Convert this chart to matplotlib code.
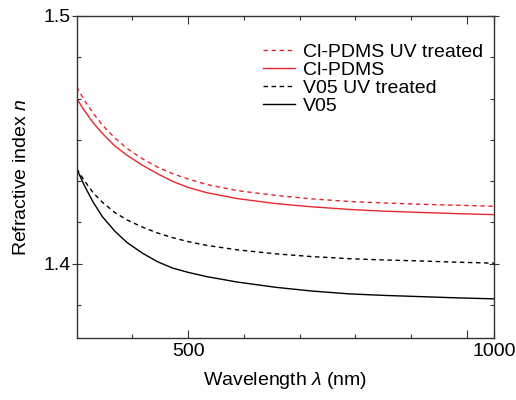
import matplotlib
matplotlib.use("Agg")
import matplotlib.pyplot as plt

plt.rcParams['font.family'] = ['Liberation Sans', 'DejaVu Sans']
plt.rcParams['mathtext.fontset'] = 'custom'
plt.rcParams['mathtext.rm'] = 'Liberation Sans'
plt.rcParams['mathtext.it'] = 'Liberation Sans:italic'

# wavelength (nm) and refractive index of each film
WAVELENGTH = [318, 330, 345, 360, 380, 400, 425, 450, 475, 500,
              530, 580, 642, 700, 764, 820, 880, 940, 1000]

CLPDMS_UV = [1.4714, 1.4662, 1.4607, 1.4560, 1.4508, 1.4466, 1.4424, 1.4390, 1.4363, 1.4342,
             1.4320, 1.4295, 1.4276, 1.4262, 1.4251, 1.4245, 1.4240, 1.4236, 1.4232]
CLPDMS = [1.4667, 1.4620, 1.4569, 1.4526, 1.4476, 1.4438, 1.4398, 1.4363, 1.4332, 1.4308,
          1.4287, 1.4263, 1.4243, 1.4230, 1.4219, 1.4212, 1.4207, 1.4202, 1.4198]
V05_UV = [1.4384, 1.4337, 1.4286, 1.4248, 1.4207, 1.4177, 1.4148, 1.4124, 1.4105, 1.4089,
          1.4074, 1.4056, 1.4040, 1.4029, 1.4020, 1.4015, 1.4011, 1.4006, 1.4002]
V05 = [1.4384, 1.4318, 1.4248, 1.4190, 1.4132, 1.4086, 1.4043, 1.4008, 1.3982, 1.3965,
       1.3948, 1.3926, 1.3905, 1.3890, 1.3878, 1.3872, 1.3867, 1.3862, 1.3858]

LABELS = ['Cl-PDMS UV treated', 'Cl-PDMS', 'V05 UV treated', 'V05']

RED = '#e8262b'

fig = plt.figure(figsize=(5.16, 4.0), dpi=100)
ax = fig.add_axes([0.1486, 0.155, 0.8094, 0.805])

dash = (0, (3.2, 2.6))
ax.plot(WAVELENGTH, CLPDMS_UV, color=RED, lw=1.0, linestyle=dash, label=LABELS[0])
ax.plot(WAVELENGTH, CLPDMS, color=RED, lw=1.0, label=LABELS[1])
ax.plot(WAVELENGTH, V05_UV, color='black', lw=1.0, linestyle=dash, label=LABELS[2])
ax.plot(WAVELENGTH, V05, color='black', lw=1.0, label=LABELS[3])

ax.set_xlim(318, 1000)
ax.set_ylim(1.37, 1.5)

ax.set_xticks([500, 955, 1000], ['500', '', '1000'])
ax.set_xticks([409, 591, 682, 773, 864], minor=True)
ax.set_yticks([1.4, 1.5], ['1.4', '1.5'])
ax.set_yticks([1.4 - 0.1 / 6] + [1.4 + k * 0.1 / 6 for k in range(1, 6)], minor=True)

ax.tick_params(axis='x', which='major', direction='in', length=5.5, width=0.8,
               top=True, labelsize=14, pad=3.5, color='#333333')
ax.tick_params(axis='x', which='minor', direction='in', length=3, width=0.8,
               top=True, color='#333333')
ax.tick_params(axis='y', which='major', direction='inout', length=7.2, width=0.8,
               right=True, labelsize=14, pad=0.5, color='#333333')
ax.tick_params(axis='y', which='minor', direction='in', length=3, width=0.8,
               right=True, color='#333333')

for sp in ax.spines.values():
    sp.set_linewidth(1.0)
    sp.set_color('#333333')

ax.set_xlabel(r'Wavelength $\lambda$ (nm)', fontsize=14)
ax.set_ylabel(r'Refractive index $n$', fontsize=14)
ax.xaxis.set_label_coords(0.5, -0.1)
ax.yaxis.set_label_coords(-0.112, 0.5)

ax.legend(loc='upper left', bbox_to_anchor=(0.446, 0.915), frameon=False, fontsize=14,
          handlelength=1.65, handletextpad=0.41, labelspacing=0.02,
          borderpad=0, borderaxespad=0)

fig.savefig('out.png', dpi=100)
